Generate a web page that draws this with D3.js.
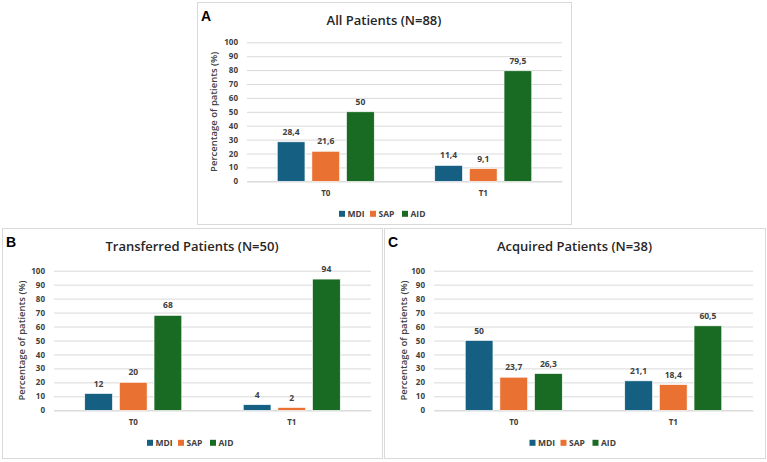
<!DOCTYPE html>
<html><head><meta charset="utf-8">
<script src="https://cdn.jsdelivr.net/npm/d3@7"></script>
<style>body{margin:0;background:#fff}svg{display:block}</style>
</head><body>
<svg id="c" width="767" height="462"></svg>
<script>
const categories = ["T0", "T1"];
const seriesNames = ["MDI", "SAP", "AID"];
const seriesColors = ["#156082", "#E97132", "#196B24"];
const yTicks = [0, 10, 20, 30, 40, 50, 60, 70, 80, 90, 100];
const allValues = [[28.4, 21.6, 50], [11.4, 9.1, 79.5]];
const transferredValues = [[12, 20, 68], [4, 2, 94]];
const acquiredValues = [[50, 23.7, 26.3], [21.1, 18.4, 60.5]];
const panelLetters = ["A", "B", "C"];
const panelTitles = ["All Patients (N=88)", "Transferred Patients (N=50)", "Acquired Patients (N=38)"];
const yLabel = "Percentage of patients (%)";

const panels = [
  {letter: panelLetters[0], title: panelTitles[0], values: allValues,
   box: [197, 2, 571, 224], plot: [247, 562, 181.3, 42.3], yl: 214},
  {letter: panelLetters[1], title: panelTitles[1], values: transferredValues,
   box: [2, 228, 382, 458], plot: [54, 371, 410.3, 270.7], yl: 22.7},
  {letter: panelLetters[2], title: panelTitles[2], values: acquiredValues,
   box: [384, 228, 765, 458], plot: [434, 753, 410.3, 270.7], yl: 404.7}
];

const svg = d3.select("#c");
const fontF = "'Open Sans', 'Liberation Sans', sans-serif";

panels.forEach(p => {
  const g = svg.append("g");
  const [bx0, by0, bx1, by1] = p.box;
  const [px0, px1, py0, py1] = p.plot;
  g.append("rect").attr("x", bx0 + 0.5).attr("y", by0 + 0.5)
    .attr("width", bx1 - bx0).attr("height", by1 - by0)
    .attr("fill", "#fff").attr("stroke", "#d9d9d9").attr("stroke-width", 1);
  const cx = (bx0 + bx1) / 2;

  g.append("text").attr("x", bx0 + 4).attr("y", by0 + 19)
    .attr("font-family", "'Liberation Sans', Arial, sans-serif").attr("font-weight", "bold")
    .attr("font-size", 14).attr("fill", "#000").text(p.letter);
  g.append("text").attr("x", cx).attr("y", by0 + 23).attr("text-anchor", "middle")
    .attr("font-family", fontF).attr("font-weight", 600)
    .attr("font-size", 13).attr("fill", "#262626").text(p.title);

  const y = d3.scaleLinear().domain([0, 100]).range([py0, py1]);
  const x = d3.scaleBand().domain(categories).range([px0, px1]).padding(0);
  const xs = d3.scaleBand().domain(seriesNames).paddingInner(0.2)
    .range([x.bandwidth() / 2 - 48.5, x.bandwidth() / 2 + 48.5]);

  const yAxis = d3.axisLeft(y).tickValues(yTicks).tickSize(-(px1 - px0)).tickPadding(9);
  const ga = g.append("g").attr("transform", `translate(${px0},0)`).call(yAxis);
  ga.select(".domain").remove();
  ga.selectAll(".tick line").attr("stroke", "#d9d9d9").attr("stroke-width", 1);
  ga.selectAll(".tick text").attr("font-family", fontF).attr("font-weight", 700)
    .attr("font-size", 8).attr("fill", "#404040");

  const xAxis = d3.axisBottom(x).tickSize(0).tickPadding(9);
  const gx = g.append("g").attr("transform", `translate(0,${py0})`).call(xAxis);
  gx.select(".domain").attr("stroke", "#d9d9d9");
  gx.selectAll(".tick text").attr("font-family", fontF).attr("font-weight", 700)
    .attr("font-size", 8).attr("fill", "#404040");

  g.append("text").attr("transform", `translate(${p.yl},${(py0 + py1) / 2}) rotate(-90)`)
    .attr("text-anchor", "middle").attr("dominant-baseline", "middle")
    .attr("font-family", fontF).attr("font-weight", 600).attr("font-size", 9.5)
    .attr("fill", "#404040").text(yLabel);

  categories.forEach((c, ci) => {
    const cg = g.append("g").attr("transform", `translate(${x(c)},0)`);
    seriesNames.forEach((s, si) => {
      const v = p.values[ci][si];
      cg.append("rect").attr("x", xs(s)).attr("y", y(v))
        .attr("width", xs.bandwidth()).attr("height", y(0) - y(v))
        .attr("fill", seriesColors[si]).attr("stroke", "#fff").attr("stroke-width", 0.6);
      cg.append("text").attr("x", xs(s) + xs.bandwidth() / 2).attr("y", y(v) - 7)
        .attr("text-anchor", "middle").attr("font-family", fontF).attr("font-weight", 700)
        .attr("font-size", 8.5).attr("fill", "#404040")
        .text(String(v).replace(".", ","));
    });
  });

  const ly = py0 + 33;
  const itemW = [31, 32, 27];
  const total = d3.sum(itemW);
  let lx = cx - total / 2;
  seriesNames.forEach((s, si) => {
    g.append("rect").attr("x", lx).attr("y", ly - 3.5).attr("width", 6).attr("height", 6)
      .attr("fill", seriesColors[si]);
    g.append("text").attr("x", lx + 8.5).attr("y", ly).attr("dominant-baseline", "middle")
      .attr("font-family", fontF).attr("font-weight", 700).attr("font-size", 8.5)
      .attr("fill", "#404040").text(s);
    lx += itemW[si];
  });
});
</script>
</body></html>
